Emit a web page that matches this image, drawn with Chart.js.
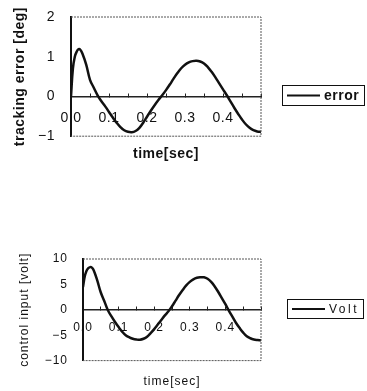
<!DOCTYPE html>
<html>
<head>
<meta charset="utf-8">
<script src="https://cdn.jsdelivr.net/npm/chart.js@4.4.1/dist/chart.umd.min.js"></script>
<style>
  body { margin: 0; background: #fff; }
  canvas { position: absolute; left: 0; }
</style>
</head>
<body>
<canvas id="grafico_erro" width="367" height="195" style="top:0"></canvas>
<canvas id="grafico_volt" width="367" height="196" style="top:195px"></canvas>
<script>
// tempo [s]
const tempos = [0, 0.005, 0.01, 0.015, 0.02, 0.025, 0.03,
  0.04, 0.05, 0.06, 0.07, 0.08, 0.09, 0.10, 0.11, 0.12, 0.13, 0.14, 0.15,
  0.16, 0.17, 0.18, 0.19, 0.20, 0.21, 0.22, 0.23, 0.24, 0.25, 0.26, 0.27,
  0.28, 0.29, 0.30, 0.31, 0.32, 0.33, 0.34, 0.35, 0.36, 0.37, 0.38, 0.39,
  0.40, 0.41, 0.42, 0.43, 0.44, 0.45, 0.46, 0.47, 0.48, 0.49, 0.50];

// tracking error [deg]
const valoresErro = [0, 0.7, 1.0, 1.13, 1.19, 1.17, 1.08,
  0.8, 0.42, 0.22, 0.03, -0.12, -0.25, -0.39, -0.53, -0.66, -0.77, -0.85, -0.89,
  -0.9, -0.87, -0.79, -0.66, -0.51, -0.36, -0.22, -0.09, 0.03, 0.16, 0.3, 0.45,
  0.59, 0.71, 0.8, 0.86, 0.89, 0.9, 0.88, 0.83, 0.74, 0.62, 0.48, 0.33,
  0.18, 0.03, -0.13, -0.29, -0.44, -0.58, -0.7, -0.79, -0.85, -0.88, -0.89];

// control input [volt]
const valoresVolt = [4.5, 6.6, 7.7, 8.2, 8.4, 8.3, 7.8,
  5.8, 3.4, 1.7, -0.1, -1.3, -2.4, -3.4, -4.3, -5.0, -5.4, -5.7, -5.85,
  -5.9, -5.7, -5.3, -4.6, -3.8, -2.9, -2.0, -1.1, -0.3, 0.7, 1.8, 2.9,
  3.9, 4.8, 5.5, 6.0, 6.3, 6.4, 6.4, 6.1, 5.5, 4.6, 3.5, 2.3,
  1.1, -0.2, -1.4, -2.6, -3.6, -4.5, -5.2, -5.6, -5.85, -5.95, -6.0];

const ticksX = [0.0, 0.1, 0.2, 0.3, 0.4];
const ticksErro = [-1, 0, 1, 2];
const ticksVolt = [-10, -5, 0, 5, 10];

const fonte = '"Liberation Sans", Arial, sans-serif';

function pontos(valores) {
  let lista = [];
  for (let i = 0; i < tempos.length; i++) {
    lista.push({ x: tempos[i], y: valores[i] });
  }
  return lista;
}

// moldura pontilhada (topo, direita, base) + caixa de legenda
const moldura = {
  id: 'moldura',
  beforeDraw(chart, args, opts) {
    chart.ctx.letterSpacing = opts.espaco + 'px';
  },
  afterDatasetsDraw(chart, args, opts) {
    const ctx = chart.ctx;
    const a = chart.chartArea;
    ctx.save();
    ctx.strokeStyle = '#555';
    ctx.lineWidth = 1;
    ctx.setLineDash([2, 1]);
    ctx.beginPath();
    ctx.moveTo(a.left, a.top);
    ctx.lineTo(a.right, a.top);
    ctx.lineTo(a.right, a.bottom);
    ctx.lineTo(a.left, a.bottom);
    ctx.stroke();
    ctx.restore();
  },
  afterDraw(chart, args, opts) {
    const ctx = chart.ctx;
    const c = opts.caixa;
    ctx.save();
    ctx.strokeStyle = '#111';
    ctx.lineWidth = 1;
    ctx.strokeRect(c.x + 0.5, c.y + 0.5, c.w, c.h);
    ctx.lineWidth = 2;
    ctx.beginPath();
    ctx.moveTo(c.x + 5, c.linhaY);
    ctx.lineTo(c.x + 38, c.linhaY);
    ctx.stroke();
    ctx.fillStyle = '#111';
    ctx.font = opts.fonteLegenda;
    ctx.letterSpacing = opts.espacoLegenda + 'px';
    ctx.textBaseline = 'middle';
    ctx.fillText(chart.data.datasets[0].label, c.x + 42, c.y + c.h / 2 + 1);
    ctx.restore();
  }
};

function criarGrafico(id, cfg) {
  const ctx = document.getElementById(id);
  return new Chart(ctx, {
    type: 'line',
    data: {
      datasets: [{
        label: cfg.label,
        data: pontos(cfg.valores),
        borderColor: '#111',
        borderWidth: 2.5,
        pointRadius: 0,
        tension: 0.4,
        fill: false
      }]
    },
    options: {
      responsive: false,
      animation: false,
      layout: { padding: { top: cfg.topo, right: 106, bottom: 0, left: 0 } },
      scales: {
        x: {
          type: 'linear',
          position: { y: 0 },
          min: 0,
          max: 0.5,
          afterFit: function (s) { s.height = 0; },
          afterBuildTicks: function (s) {
            let t = [];
            for (let i = 0; i <= 10; i++) t.push({ value: i * 0.05 });
            s.ticks = t;
          },
          ticks: {
            autoSkip: false,
            maxRotation: 0,
            padding: cfg.padX,
            color: '#111',
            font: { family: fonte, size: cfg.tamTick },
            callback: function (v) {
              const achado = ticksX.find(function (t) { return Math.abs(t - v) < 1e-6; });
              return achado === undefined ? '' : achado.toFixed(1);
            }
          },
          grid: { display: true, drawOnChartArea: false, drawTicks: true, tickLength: -4, color: '#222', lineWidth: 1 },
          border: { color: '#222', width: 1.5 }
        },
        y: {
          min: cfg.ticksY[0],
          max: cfg.ticksY[cfg.ticksY.length - 1],
          afterFit: function (s) { s.width = cfg.larguraY; },
          afterBuildTicks: function (s) {
            s.ticks = cfg.ticksY.map(function (v) { return { value: v }; });
          },
          ticks: {
            padding: 0,
            color: '#111',
            font: { family: fonte, size: cfg.tamTickY },
            callback: function (v) { return String(v).replace('-', '\u2212'); }
          },
          // afastamento dos rotulos via tickLength (grid escondido)
          grid: { display: false, drawTicks: true, tickLength: cfg.afastY },
          border: { color: '#111', width: 2 },
          title: {
            display: true,
            text: cfg.tituloY,
            color: '#111',
            font: { family: fonte, size: cfg.tamTitulo, weight: cfg.peso },
            padding: { top: cfg.padTituloY, bottom: 0 }
          }
        }
      },
      plugins: {
        legend: { display: false },
        tooltip: { enabled: false },
        title: {
          display: true,
          text: 'time[sec]',
          position: 'bottom',
          fullSize: false,
          color: '#111',
          font: { family: fonte, size: cfg.tamTitulo, weight: cfg.peso },
          padding: cfg.padTituloX
        },
        moldura: {
          espaco: cfg.espaco,
          caixa: cfg.caixa,
          fonteLegenda: cfg.fonteLegenda,
          espacoLegenda: cfg.espacoLegenda
        }
      }
    },
    plugins: [moldura]
  });
}

criarGrafico('grafico_erro', {
  label: 'error',
  valores: valoresErro,
  ticksY: ticksErro,
  tituloY: 'tracking error [deg]',
  topo: 17,
  larguraY: 71,
  afastY: 16,
  padX: 17,
  tamTick: 14,
  tamTickY: 14,
  tamTitulo: 14,
  peso: 'bold',
  padTituloY: 12,
  padTituloX: { top: 10, bottom: 32 },
  espaco: 0.5,
  caixa: { x: 282, y: 85, w: 82, h: 20, linhaY: 95.5 },
  fonteLegenda: 'bold 14px ' + fonte,
  espacoLegenda: 0.5
});

criarGrafico('grafico_volt', {
  label: 'Volt',
  valores: valoresVolt,
  ticksY: ticksVolt,
  tituloY: 'control input [volt]',
  topo: 64,
  larguraY: 83,
  afastY: 15,
  padX: 15,
  tamTick: 12,
  tamTickY: 12,
  tamTitulo: 12,
  peso: 'normal',
  padTituloY: 17,
  padTituloX: { top: 14, bottom: 2 },
  espaco: 1,
  caixa: { x: 287, y: 104, w: 76, h: 19, linhaY: 114 },
  fonteLegenda: '12px ' + fonte,
  espacoLegenda: 2.5
});
</script>
</body>
</html>
